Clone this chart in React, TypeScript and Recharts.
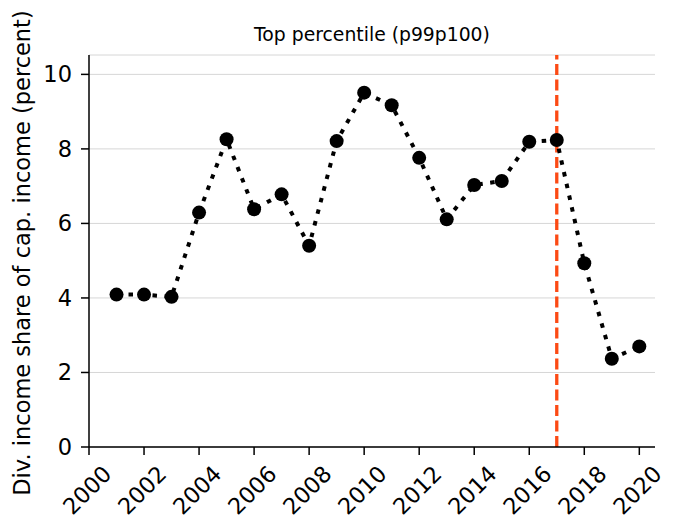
import React from 'react';
import {
  LineChart,
  Line,
  XAxis,
  YAxis,
  CartesianGrid,
  ReferenceLine,
} from 'recharts';

const years = [
  2001, 2002, 2003, 2004, 2005, 2006, 2007, 2008, 2009, 2010,
  2011, 2012, 2013, 2014, 2015, 2016, 2017, 2018, 2019, 2020,
];
const shares = [
  4.09, 4.09, 4.03, 6.29, 8.26, 6.38, 6.78, 5.4, 8.21, 9.51,
  9.17, 7.76, 6.11, 7.03, 7.14, 8.19, 8.24, 4.93, 2.37, 2.7,
];
const xTicks = [2000, 2002, 2004, 2006, 2008, 2010, 2012, 2014, 2016, 2018, 2020];
const yTicks = [0, 2, 4, 6, 8, 10];
const reformYear = 2017;

const data = years.map((year, i) => ({ year, share: shares[i] }));

const FONT = '"DejaVu Sans", sans-serif';

function YearTick({ x, y, payload }: any) {
  return (
    <g transform={`translate(${x - 2},${y + 33})`}>
      <text
        textAnchor="middle"
        dominantBaseline="central"
        transform="rotate(-45)"
        fontSize={22.5}
        fontFamily={FONT}
        fill="#000"
      >
        {payload.value}
      </text>
    </g>
  );
}

export default function App() {
  return (
    <div style={{ position: 'absolute', left: 0, top: 0, width: 680, height: 531, background: '#fff' }}>
      <div
        style={{
          position: 'absolute',
          left: 89,
          width: 566,
          top: 24,
          textAlign: 'center',
          fontFamily: FONT,
          fontSize: 18.8,
          lineHeight: '22px',
          color: '#000',
        }}
      >
        Top percentile (p99p100)
      </div>
      <LineChart
        width={680}
        height={531}
        data={data}
        margin={{ top: 55, right: 25, bottom: 0, left: 29 }}
      >
        <CartesianGrid vertical={false} stroke="#d6d6d6" strokeWidth={1} />
        <XAxis
          dataKey="year"
          type="number"
          domain={[2000, 2020.57]}
          ticks={xTicks}
          allowDataOverflow
          height={84}
          tickSize={8}
          tick={<YearTick />}
          axisLine={{ stroke: '#000', strokeWidth: 1.5 }}
          tickLine={{ stroke: '#000', strokeWidth: 1.5 }}
        />
        <YAxis
          type="number"
          domain={[0, 10.52]}
          ticks={yTicks}
          allowDataOverflow
          width={60}
          tickSize={8}
          tickMargin={9}
          tick={{ fontSize: 22.5, fontFamily: FONT, fill: '#000' }}
          axisLine={{ stroke: '#000', strokeWidth: 1.5 }}
          tickLine={{ stroke: '#000', strokeWidth: 1.5 }}
          label={{
            content: () => (
              <text
                x={22}
                y={253}
                transform="rotate(-90, 22, 253)"
                textAnchor="middle"
                dominantBaseline="central"
                fontSize={22.5}
                fontFamily={FONT}
                fill="#000"
              >
                Div. income share of cap. income (percent)
              </text>
            ),
          }}
        />
        <ReferenceLine
          x={reformYear}
          stroke="#fc4a14"
          strokeWidth={3.3}
          strokeDasharray="11 4.5"
        />
        <Line
          dataKey="share"
          type="linear"
          stroke="#000"
          strokeWidth={4}
          strokeDasharray="4.5 7.5"
          dot={{ r: 7, fill: '#000', stroke: '#000', strokeWidth: 0, strokeDasharray: '' }}
          activeDot={false}
          isAnimationActive={false}
        />
      </LineChart>
    </div>
  );
}
